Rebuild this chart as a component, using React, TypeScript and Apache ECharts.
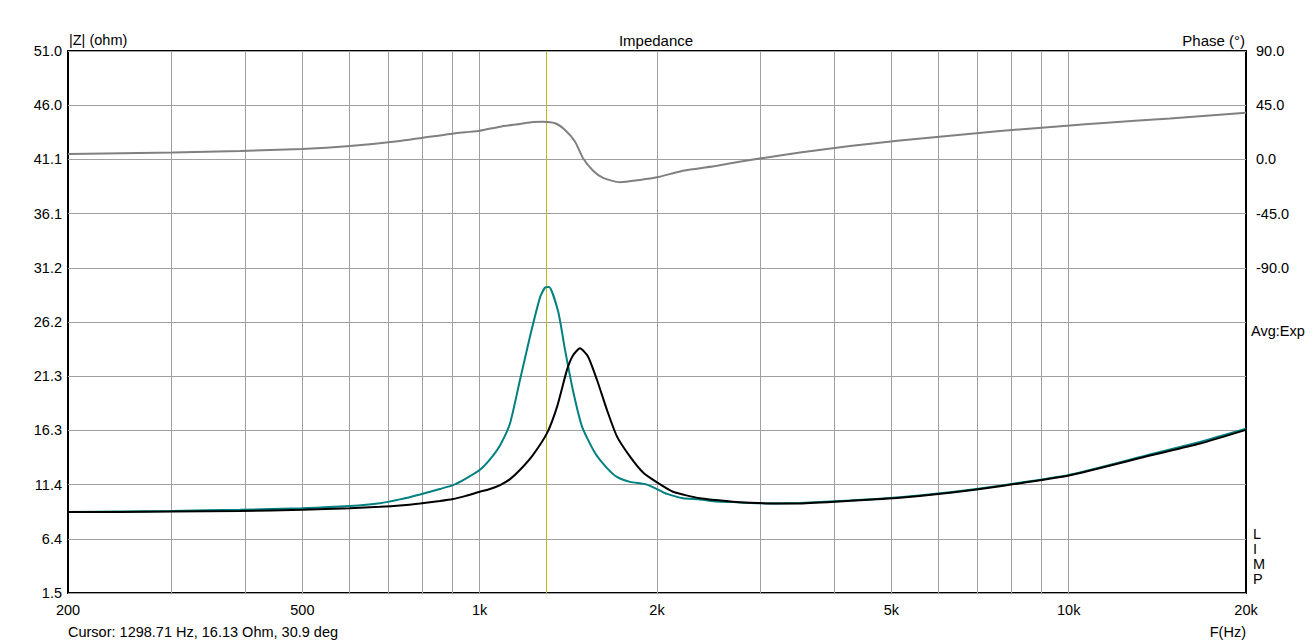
import React, { useEffect, useRef } from 'react';
import * as echarts from 'echarts';

// ---- data ----
const tealFreq = [200, 245, 301, 392, 499, 602, 677, 732, 792, 856, 901, 944, 1001, 1041, 1083, 1126, 1170, 1217, 1266, 1291, 1311, 1359, 1396, 1440, 1492, 1569, 1645, 1710, 1800, 1923, 2024, 2080, 2214, 2366, 2529, 2692, 2878, 3172, 3497, 4254, 5170, 6287, 7645, 10050, 13742, 16708, 20000];
const tealOhm = [8.9, 8.95, 9.0, 9.1, 9.25, 9.45, 9.7, 10.05, 10.5, 11.0, 11.35, 11.9, 12.75, 13.7, 15.0, 17.0, 20.9, 24.9, 28.5, 29.4, 29.45, 27.2, 23.7, 20.0, 16.7, 14.3, 12.9, 12.1, 11.65, 11.4, 10.85, 10.55, 10.15, 10.05, 9.85, 9.8, 9.72, 9.68, 9.72, 9.95, 10.25, 10.7, 11.3, 12.3, 14.15, 15.3, 16.5];

const blackFreq = [200, 245, 301, 392, 499, 602, 677, 732, 792, 856, 901, 944, 1001, 1041, 1083, 1126, 1170, 1231, 1301, 1353, 1407, 1440, 1480, 1527, 1582, 1645, 1710, 1800, 1894, 2000, 2129, 2366, 2692, 2878, 3172, 3497, 4254, 5170, 6287, 7645, 10050, 13742, 16708, 20000];
const blackOhm = [8.9, 8.9, 8.95, 9.0, 9.1, 9.25, 9.38, 9.5, 9.68, 9.9, 10.08, 10.35, 10.75, 11.0, 11.36, 11.9, 12.73, 14.1, 16.1, 18.5, 21.9, 23.2, 23.85, 23.1, 20.95, 18.2, 15.8, 13.95, 12.5, 11.6, 10.75, 10.15, 9.84, 9.75, 9.67, 9.68, 9.92, 10.2, 10.65, 11.25, 12.25, 14.05, 15.15, 16.4];

const phaseFreq = [200, 301, 392, 499, 602, 732, 891, 944, 1001, 1083, 1170, 1231, 1281, 1343, 1396, 1452, 1498, 1558, 1620, 1731, 1871, 2000, 2214, 2529, 2878, 3497, 4254, 5170, 7645, 10050, 11300, 14860, 20000];
const phaseDeg = [4.5, 5.7, 7.0, 8.6, 11.1, 15.3, 21.1, 22.5, 23.8, 27.2, 29.4, 31.0, 31.3, 30.0, 24.4, 14.7, 0.9, -9.4, -15.4, -19.0, -17.1, -14.9, -9.4, -5.2, -0.5, 5.7, 11.1, 15.7, 23.6, 28.2, 30.0, 34.0, 38.7];

const gridFreqs = [300, 400, 500, 600, 700, 800, 900, 1000, 2000, 3000, 4000, 5000, 6000, 7000, 8000, 9000, 10000];
const xTickFreqs = [200, 500, 1000, 2000, 5000, 10000, 20000];
const xTickLabels = ['200', '500', '1k', '2k', '5k', '10k', '20k'];
const yTickLabels = ['1.5', '6.4', '11.4', '16.3', '21.3', '26.2', '31.2', '36.1', '41.1', '46.0', '51.0'];
const cursorFreq = 1298.71;

const FONT = '"Liberation Sans", Arial, Helvetica, sans-serif';
const FS = 14.5;

function pairs(xs: number[], ys: number[]) {
  return xs.map((x, i) => [x, ys[i]]);
}

function textEl(text: string, x: number, y: number, align: string, size: number = FS) {
  return {
    type: 'text',
    x,
    y,
    silent: true,
    style: {
      text,
      fill: '#000',
      font: `${size}px ${FONT}`,
      fontSize: size,
      fontFamily: FONT,
      textAlign: align,
      align,
      textVerticalAlign: 'middle',
      verticalAlign: 'middle',
      lineHeight: 15,
    },
  };
}

export default function App() {
  const ref = useRef<HTMLDivElement>(null);
  useEffect(() => {
    const chart = echarts.init(ref.current!, null, { renderer: 'svg' });
    const option: any = {
      animation: false,
      backgroundColor: '#fff',
      grid: {
        left: 68,
        right: 68,
        top: 51,
        bottom: 51,
        show: true,
        borderColor: '#000',
        borderWidth: 2,
        backgroundColor: 'transparent',
      },
      xAxis: {
        type: 'log',
        logBase: 10,
        min: 200,
        max: 20000,
        axisLine: { show: false },
        axisTick: { show: false },
        axisLabel: { show: false },
        splitLine: { show: false },
      },
      yAxis: [
        {
          type: 'value',
          min: 1.5,
          max: 51,
          show: false,
          splitLine: { show: false },
        },
        {
          type: 'value',
          position: 'left',
          min: 0,
          max: 10,
          interval: 1,
          axisLine: { show: false },
          axisTick: { show: false },
          axisLabel: {
            color: '#000',
            fontSize: FS,
            fontFamily: FONT,
            margin: 6,
            formatter: (_v: number, i: number) => yTickLabels[i] ?? '',
          },
          splitLine: { show: true, lineStyle: { color: '#a0a0a0', width: 1 } },
        },
        {
          type: 'value',
          position: 'right',
          min: -360,
          max: 90,
          interval: 45,
          axisLine: { show: false },
          axisTick: { show: false },
          splitLine: { show: false },
          axisLabel: {
            color: '#000',
            fontSize: FS,
            fontFamily: FONT,
            margin: 10,
            formatter: (v: number) => (v >= -90 ? v.toFixed(1) : ''),
          },
        },
      ],
      series: [
        {
          name: 'Impedance 1',
          type: 'line',
          yAxisIndex: 0,
          z: 3,
          data: pairs(tealFreq, tealOhm),
          showSymbol: false,
          smooth: 0.2,
          lineStyle: { color: '#008080', width: 2 },
          itemStyle: { color: '#008080' },
          markLine: {
            silent: true,
            z: 1,
            symbol: ['none', 'none'],
            animation: false,
            label: { show: false },
            lineStyle: { color: '#a0a0a0', width: 1, type: 'solid' },
            emphasis: { disabled: true },
            data: gridFreqs.map((f) => ({ xAxis: f })),
          },
        },
        {
          name: 'Impedance 2',
          type: 'line',
          yAxisIndex: 0,
          z: 4,
          data: pairs(blackFreq, blackOhm),
          showSymbol: false,
          smooth: 0.2,
          lineStyle: { color: '#000000', width: 2 },
          itemStyle: { color: '#000000' },
          markLine: {
            silent: true,
            z: 1,
            symbol: ['none', 'none'],
            animation: false,
            lineStyle: { color: 'rgba(0,0,0,0)', width: 0, type: 'solid' },
            label: {
              show: true,
              position: 'start',
              distance: 9,
              formatter: '{b}',
              color: '#000',
              fontSize: FS,
              fontFamily: FONT,
            },
            emphasis: { disabled: true },
            data: xTickFreqs.map((f, i) => ({ xAxis: f, name: xTickLabels[i] })),
          },
        },
        {
          name: 'Phase',
          type: 'line',
          yAxisIndex: 2,
          z: 3,
          data: pairs(phaseFreq, phaseDeg),
          showSymbol: false,
          smooth: 0.2,
          lineStyle: { color: '#808080', width: 2 },
          itemStyle: { color: '#808080' },
          markLine: {
            silent: true,
            z: 2,
            symbol: ['none', 'none'],
            animation: false,
            label: { show: false },
            lineStyle: { color: '#bcbc1c', width: 1, type: 'solid' },
            emphasis: { disabled: true },
            data: [{ xAxis: cursorFreq }],
          },
        },
      ],
      graphic: [
        textEl('|Z| (ohm)', 69, 40, 'left'),
        textEl('Impedance', 656, 40, 'center', 15),
        textEl('Phase (°)', 1245, 40, 'right', 15),
        textEl('Avg:Exp', 1251, 331, 'left'),
        textEl('L\nI\nM\nP', 1253, 556, 'left'),
        textEl('Cursor: 1298.71 Hz, 16.13 Ohm, 30.9 deg', 68, 632, 'left'),
        textEl('F(Hz)', 1246, 632, 'right'),
      ],
    };
    chart.setOption(option);
    return () => chart.dispose();
  }, []);
  return (
    <div
      ref={ref}
      style={{ position: 'fixed', left: 0, top: 0, width: 1314, height: 644, background: '#fff' }}
    />
  );
}
